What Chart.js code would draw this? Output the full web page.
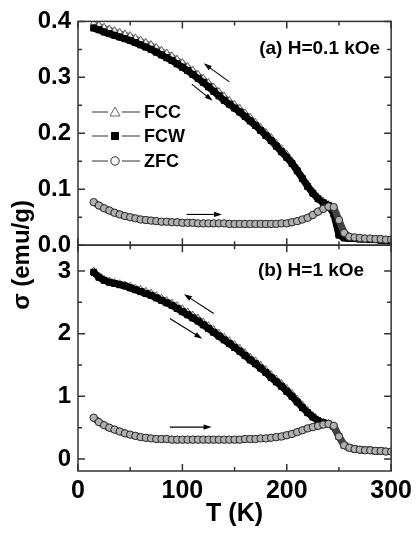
<!DOCTYPE html>
<html>
<head>
<meta charset="utf-8">
<script src="https://cdn.jsdelivr.net/npm/chart.js@4.4.0/dist/chart.umd.min.js"></script>
<style>
  html, body { margin: 0; padding: 0; background: #fff; }
</style>
</head>
<body>
<canvas id="myChart" width="417" height="533"></canvas>
<script>
var temps = [15, 20, 25, 30, 35, 40, 45, 50, 55, 60,
  65, 70, 75, 80, 85, 90, 95, 100, 105, 110,
  115, 120, 125, 130, 135, 140, 145, 150, 155, 160,
  165, 170, 175, 180, 185, 190, 195, 200, 205, 210,
  215, 220, 225, 230, 235, 240, 245, 250, 255, 260,
  265, 270, 275, 280, 285, 290, 295, 300];

// (a) H = 0.1 kOe
var fccA = [0.398, 0.394, 0.390, 0.387, 0.384, 0.381, 0.378, 0.375, 0.371, 0.367,
  0.363, 0.359, 0.354, 0.349, 0.344, 0.339, 0.333, 0.327, 0.320, 0.313,
  0.306, 0.299, 0.291, 0.283, 0.275, 0.267, 0.259, 0.252, 0.245, 0.237,
  0.229, 0.220, 0.211, 0.202, 0.193, 0.183, 0.173, 0.163, 0.151, 0.138,
  0.124, 0.110, 0.097, 0.087, 0.079, 0.073, 0.057, 0.019, 0.013, 0.012,
  0.012, 0.011, 0.011, 0.010, 0.010, 0.009, 0.009, 0.009];
var fcwA = [0.388, 0.385, 0.381, 0.378, 0.375, 0.372, 0.369, 0.366, 0.362, 0.358,
  0.354, 0.350, 0.345, 0.340, 0.335, 0.330, 0.324, 0.318, 0.312, 0.305,
  0.298, 0.291, 0.283, 0.275, 0.267, 0.259, 0.252, 0.245, 0.238, 0.230,
  0.222, 0.214, 0.205, 0.196, 0.187, 0.177, 0.167, 0.157, 0.146, 0.133,
  0.119, 0.105, 0.093, 0.083, 0.076, 0.071, 0.056, 0.018, 0.013, 0.012,
  0.012, 0.011, 0.011, 0.010, 0.010, 0.009, 0.009, 0.008];
var zfcA = [0.077, 0.071, 0.066, 0.062, 0.058, 0.055, 0.052, 0.050, 0.048, 0.046,
  0.045, 0.044, 0.043, 0.042, 0.042, 0.041, 0.041, 0.040, 0.040, 0.040,
  0.039, 0.039, 0.039, 0.039, 0.039, 0.039, 0.038, 0.038, 0.038, 0.038,
  0.038, 0.038, 0.038, 0.038, 0.038, 0.038, 0.039, 0.039, 0.041, 0.043,
  0.046, 0.049, 0.054, 0.060, 0.065, 0.069, 0.068, 0.045, 0.022, 0.015,
  0.014, 0.013, 0.012, 0.012, 0.011, 0.011, 0.010, 0.010];

// (b) H = 1 kOe
var fccB = [3.00, 2.92, 2.87, 2.84, 2.82, 2.80, 2.78, 2.76, 2.73, 2.71,
  2.68, 2.65, 2.61, 2.57, 2.53, 2.49, 2.45, 2.40, 2.35, 2.30,
  2.25, 2.19, 2.13, 2.07, 2.01, 1.95, 1.89, 1.83, 1.77, 1.70,
  1.63, 1.57, 1.50, 1.43, 1.35, 1.28, 1.21, 1.13, 1.05, 0.96,
  0.87, 0.78, 0.70, 0.63, 0.59, 0.57, 0.53, 0.38, 0.23, 0.18,
  0.16, 0.15, 0.14, 0.14, 0.13, 0.13, 0.12, 0.12];
var fcwB = [2.98, 2.90, 2.85, 2.82, 2.80, 2.78, 2.76, 2.73, 2.70, 2.67,
  2.64, 2.61, 2.57, 2.53, 2.49, 2.45, 2.40, 2.35, 2.30, 2.25,
  2.20, 2.14, 2.08, 2.02, 1.96, 1.90, 1.84, 1.78, 1.72, 1.65,
  1.58, 1.52, 1.45, 1.38, 1.30, 1.23, 1.16, 1.08, 1.00, 0.91,
  0.82, 0.74, 0.67, 0.61, 0.58, 0.56, 0.52, 0.36, 0.22, 0.18,
  0.16, 0.15, 0.14, 0.14, 0.13, 0.13, 0.12, 0.12];
var zfcB = [0.66, 0.59, 0.54, 0.50, 0.47, 0.44, 0.41, 0.39, 0.37, 0.35,
  0.34, 0.33, 0.32, 0.32, 0.32, 0.31, 0.31, 0.31, 0.31, 0.31,
  0.31, 0.31, 0.31, 0.31, 0.31, 0.31, 0.31, 0.31, 0.31, 0.32,
  0.32, 0.32, 0.33, 0.33, 0.34, 0.35, 0.36, 0.38, 0.40, 0.43,
  0.46, 0.49, 0.51, 0.53, 0.55, 0.56, 0.53, 0.36, 0.22, 0.18,
  0.16, 0.15, 0.14, 0.14, 0.13, 0.13, 0.12, 0.12];

// ticks
var xMajor = [0, 100, 200, 300];
var xMinor = [50, 150, 250];
var aMajor = [0, 0.1, 0.2, 0.3, 0.4];
var aMinor = [0.05, 0.15, 0.25, 0.35];
var bMajor = [0, 1, 2, 3];
var bMinor = [0.5, 1.5, 2.5];

// arrows: [T1, v1, T2, v2, axis] head at the second point
var arrows = [
  [145, 0.292, 120.5, 0.325, "yA"],
  [109, 0.288, 129, 0.258, "yA"],
  [104, 0.055, 138, 0.055, "yA"],
  [130, 2.32, 101.5, 2.63, "yB"],
  [88, 2.24, 119, 1.92, "yB"],
  [88, 0.51, 128, 0.51, "yB"]
];

var legendNames = ["FCC", "FCW", "ZFC"];
var FONT = "'Liberation Sans', Arial, sans-serif";

function pts(arr) {
  return temps.map(function (t, i) {
    return { x: t, y: arr[i] };
  });
}

var fccStyle = { pointStyle: "triangle", pointRadius: 3.8, pointBackgroundColor: "#f4f4f4", pointBorderColor: "#444", pointBorderWidth: 0.8, borderColor: "#777", borderWidth: 4 };
var fcwStyle = { pointStyle: "rect", pointRadius: 4.2, pointBackgroundColor: "#000", pointBorderColor: "#000", pointBorderWidth: 1, borderColor: "#000", borderWidth: 7 };
var zfcStyle = { pointStyle: "circle", pointRadius: 3.7, pointBackgroundColor: "#b0b0b0", pointBorderColor: "#2a2a2a", pointBorderWidth: 1, borderColor: "#444", borderWidth: 7 };

function ds(label, arr, axis, style, order) {
  return Object.assign({ label: label, data: pts(arr), yAxisID: axis, showLine: true, order: order, pointHoverRadius: 0 }, style);
}

function yScale(min, max, weight, major, fmt) {
  return {
    type: "linear",
    position: "left",
    stack: "panels",
    stackWeight: weight,
    min: min,
    max: max,
    grid: { display: false, drawTicks: false },
    border: { display: false },
    ticks: {
      color: "#000",
      padding: 7,
      font: { family: FONT, size: 24, weight: "bold" },
      callback: function (v) { return fmt(v); }
    },
    afterBuildTicks: function (s) {
      s.ticks = major.map(function (v) { return { value: v }; });
    },
    afterFit: function (s) { s.width = 78; }
  };
}

function drawArrow(ctx, x1, y1, x2, y2) {
  var ang = Math.atan2(y2 - y1, x2 - x1);
  var hl = 8, hw = 2.6;
  ctx.beginPath();
  ctx.moveTo(x1, y1);
  ctx.lineTo(x2 - hl * 0.8 * Math.cos(ang), y2 - hl * 0.8 * Math.sin(ang));
  ctx.stroke();
  ctx.beginPath();
  ctx.moveTo(x2, y2);
  ctx.lineTo(x2 - hl * Math.cos(ang) + hw * Math.sin(ang), y2 - hl * Math.sin(ang) - hw * Math.cos(ang));
  ctx.lineTo(x2 - hl * Math.cos(ang) - hw * Math.sin(ang), y2 - hl * Math.sin(ang) + hw * Math.cos(ang));
  ctx.closePath();
  ctx.fill();
}

var framePlugin = {
  id: "frame",
  afterDraw: function (chart) {
    var ctx = chart.ctx;
    var x = chart.scales.x;
    var left = chart.chartArea.left, right = chart.chartArea.right;
    ctx.save();
    ctx.strokeStyle = "#333";
    ctx.fillStyle = "#000";
    ctx.lineWidth = 1.5;

    [["yA", aMajor, aMinor], ["yB", bMajor, bMinor]].forEach(function (p) {
      var y = chart.scales[p[0]];
      var top = y.top, bot = y.bottom;
      ctx.strokeRect(left, top, right - left, bot - top);
      ctx.beginPath();
      xMajor.forEach(function (v) {
        var px = x.getPixelForValue(v);
        ctx.moveTo(px, bot); ctx.lineTo(px, bot - 7);
        ctx.moveTo(px, top); ctx.lineTo(px, top + 7);
      });
      xMinor.forEach(function (v) {
        var px = x.getPixelForValue(v);
        ctx.moveTo(px, bot); ctx.lineTo(px, bot - 4);
        ctx.moveTo(px, top); ctx.lineTo(px, top + 4);
      });
      p[1].forEach(function (v) {
        var py = y.getPixelForValue(v);
        ctx.moveTo(left, py); ctx.lineTo(left + 7, py);
        ctx.moveTo(right, py); ctx.lineTo(right - 7, py);
      });
      p[2].forEach(function (v) {
        var py = y.getPixelForValue(v);
        ctx.moveTo(left, py); ctx.lineTo(left + 4, py);
        ctx.moveTo(right, py); ctx.lineTo(right - 4, py);
      });
      ctx.stroke();
    });

    // arrows
    ctx.strokeStyle = "#000";
    ctx.lineWidth = 1.1;
    arrows.forEach(function (a) {
      var y = chart.scales[a[4]];
      drawArrow(ctx, x.getPixelForValue(a[0]), y.getPixelForValue(a[1]),
        x.getPixelForValue(a[2]), y.getPixelForValue(a[3]));
    });

    // legend
    var styles = [fccStyle, fcwStyle, zfcStyle];
    var rows = [112, 136, 161];
    legendNames.forEach(function (name, i) {
      var ly = rows[i];
      var mx = left + 37;
      ctx.strokeStyle = "#777";
      ctx.lineWidth = 1.3;
      ctx.beginPath();
      ctx.moveTo(left + 14, ly); ctx.lineTo(mx - 7, ly);
      ctx.moveTo(mx + 7, ly); ctx.lineTo(left + 62, ly);
      ctx.stroke();
      var st = styles[i];
      ctx.lineWidth = st.pointBorderWidth;
      ctx.strokeStyle = st.pointBorderColor;
      ctx.fillStyle = st.pointStyle === "rect" ? "#000" : "#fff";
      ctx.beginPath();
      if (st.pointStyle === "triangle") {
        ctx.moveTo(mx, ly - 5); ctx.lineTo(mx + 5, ly + 4); ctx.lineTo(mx - 5, ly + 4); ctx.closePath();
      } else if (st.pointStyle === "rect") {
        ctx.rect(mx - 3.5, ly - 3.5, 7, 7);
      } else {
        ctx.arc(mx, ly, 4.2, 0, Math.PI * 2);
      }
      ctx.fill();
      ctx.stroke();
      ctx.fillStyle = "#000";
      ctx.font = "bold 18px " + FONT;
      ctx.textAlign = "left";
      ctx.textBaseline = "middle";
      ctx.fillText(name, left + 66, ly + 1);
    });

    // panel labels
    ctx.fillStyle = "#000";
    ctx.font = "bold 19px " + FONT;
    ctx.textAlign = "right";
    ctx.textBaseline = "middle";
    ctx.fillText("(a) H=0.1 kOe", right - 11, chart.scales.yA.top + 27);
    ctx.fillText("(b) H=1 kOe", right - 27, chart.scales.yB.top + 26);

    // y title
    ctx.save();
    ctx.translate(22, 255);
    ctx.rotate(-Math.PI / 2);
    ctx.font = "bold 24px " + FONT;
    ctx.textAlign = "center";
    ctx.fillText("\u03c3 (emu/g)", 0, 0);
    ctx.restore();
    ctx.restore();
  }
};

var ctx = document.getElementById("myChart").getContext("2d");
var myChart = new Chart(ctx, {
  type: "scatter",
  data: {
    datasets: [
      ds("ZFC", zfcA, "yA", zfcStyle, 1),
      ds("FCW", fcwA, "yA", fcwStyle, 2),
      ds("FCC", fccA, "yA", fccStyle, 3),
      ds("ZFC", zfcB, "yB", zfcStyle, 1),
      ds("FCW", fcwB, "yB", fcwStyle, 2),
      ds("FCC", fccB, "yB", fccStyle, 3)
    ]
  },
  options: {
    responsive: false,
    animation: false,
    devicePixelRatio: 1,
    layout: { padding: { top: 19, right: 23, left: 0, bottom: 0 } },
    plugins: { legend: { display: false }, tooltip: { enabled: false } },
    scales: {
      x: {
        type: "linear",
        position: "bottom",
        min: 0,
        max: 300,
        grid: { display: false, drawTicks: false },
        border: { display: false },
        ticks: {
          color: "#000",
          padding: 5,
          maxRotation: 0,
          font: { family: FONT, size: 25, weight: "bold" }
        },
        afterBuildTicks: function (s) {
          s.ticks = xMajor.map(function (v) { return { value: v }; });
        },
        title: {
          display: true,
          text: "T (K)",
          color: "#000",
          font: { family: FONT, size: 25, weight: "bold" },
          padding: { top: 0, bottom: 4 }
        },
        afterFit: function (s) { s.height = 62; }
      },
      // the first axis in a stack goes to the bottom
      yB: yScale(-0.19, 3.41, 227, bMajor, function (v) { return v.toFixed(0); }),
      yA: yScale(0, 0.4, 225, aMajor, function (v) { return v.toFixed(1); })
    }
  },
  plugins: [framePlugin]
});
</script>
</body>
</html>
